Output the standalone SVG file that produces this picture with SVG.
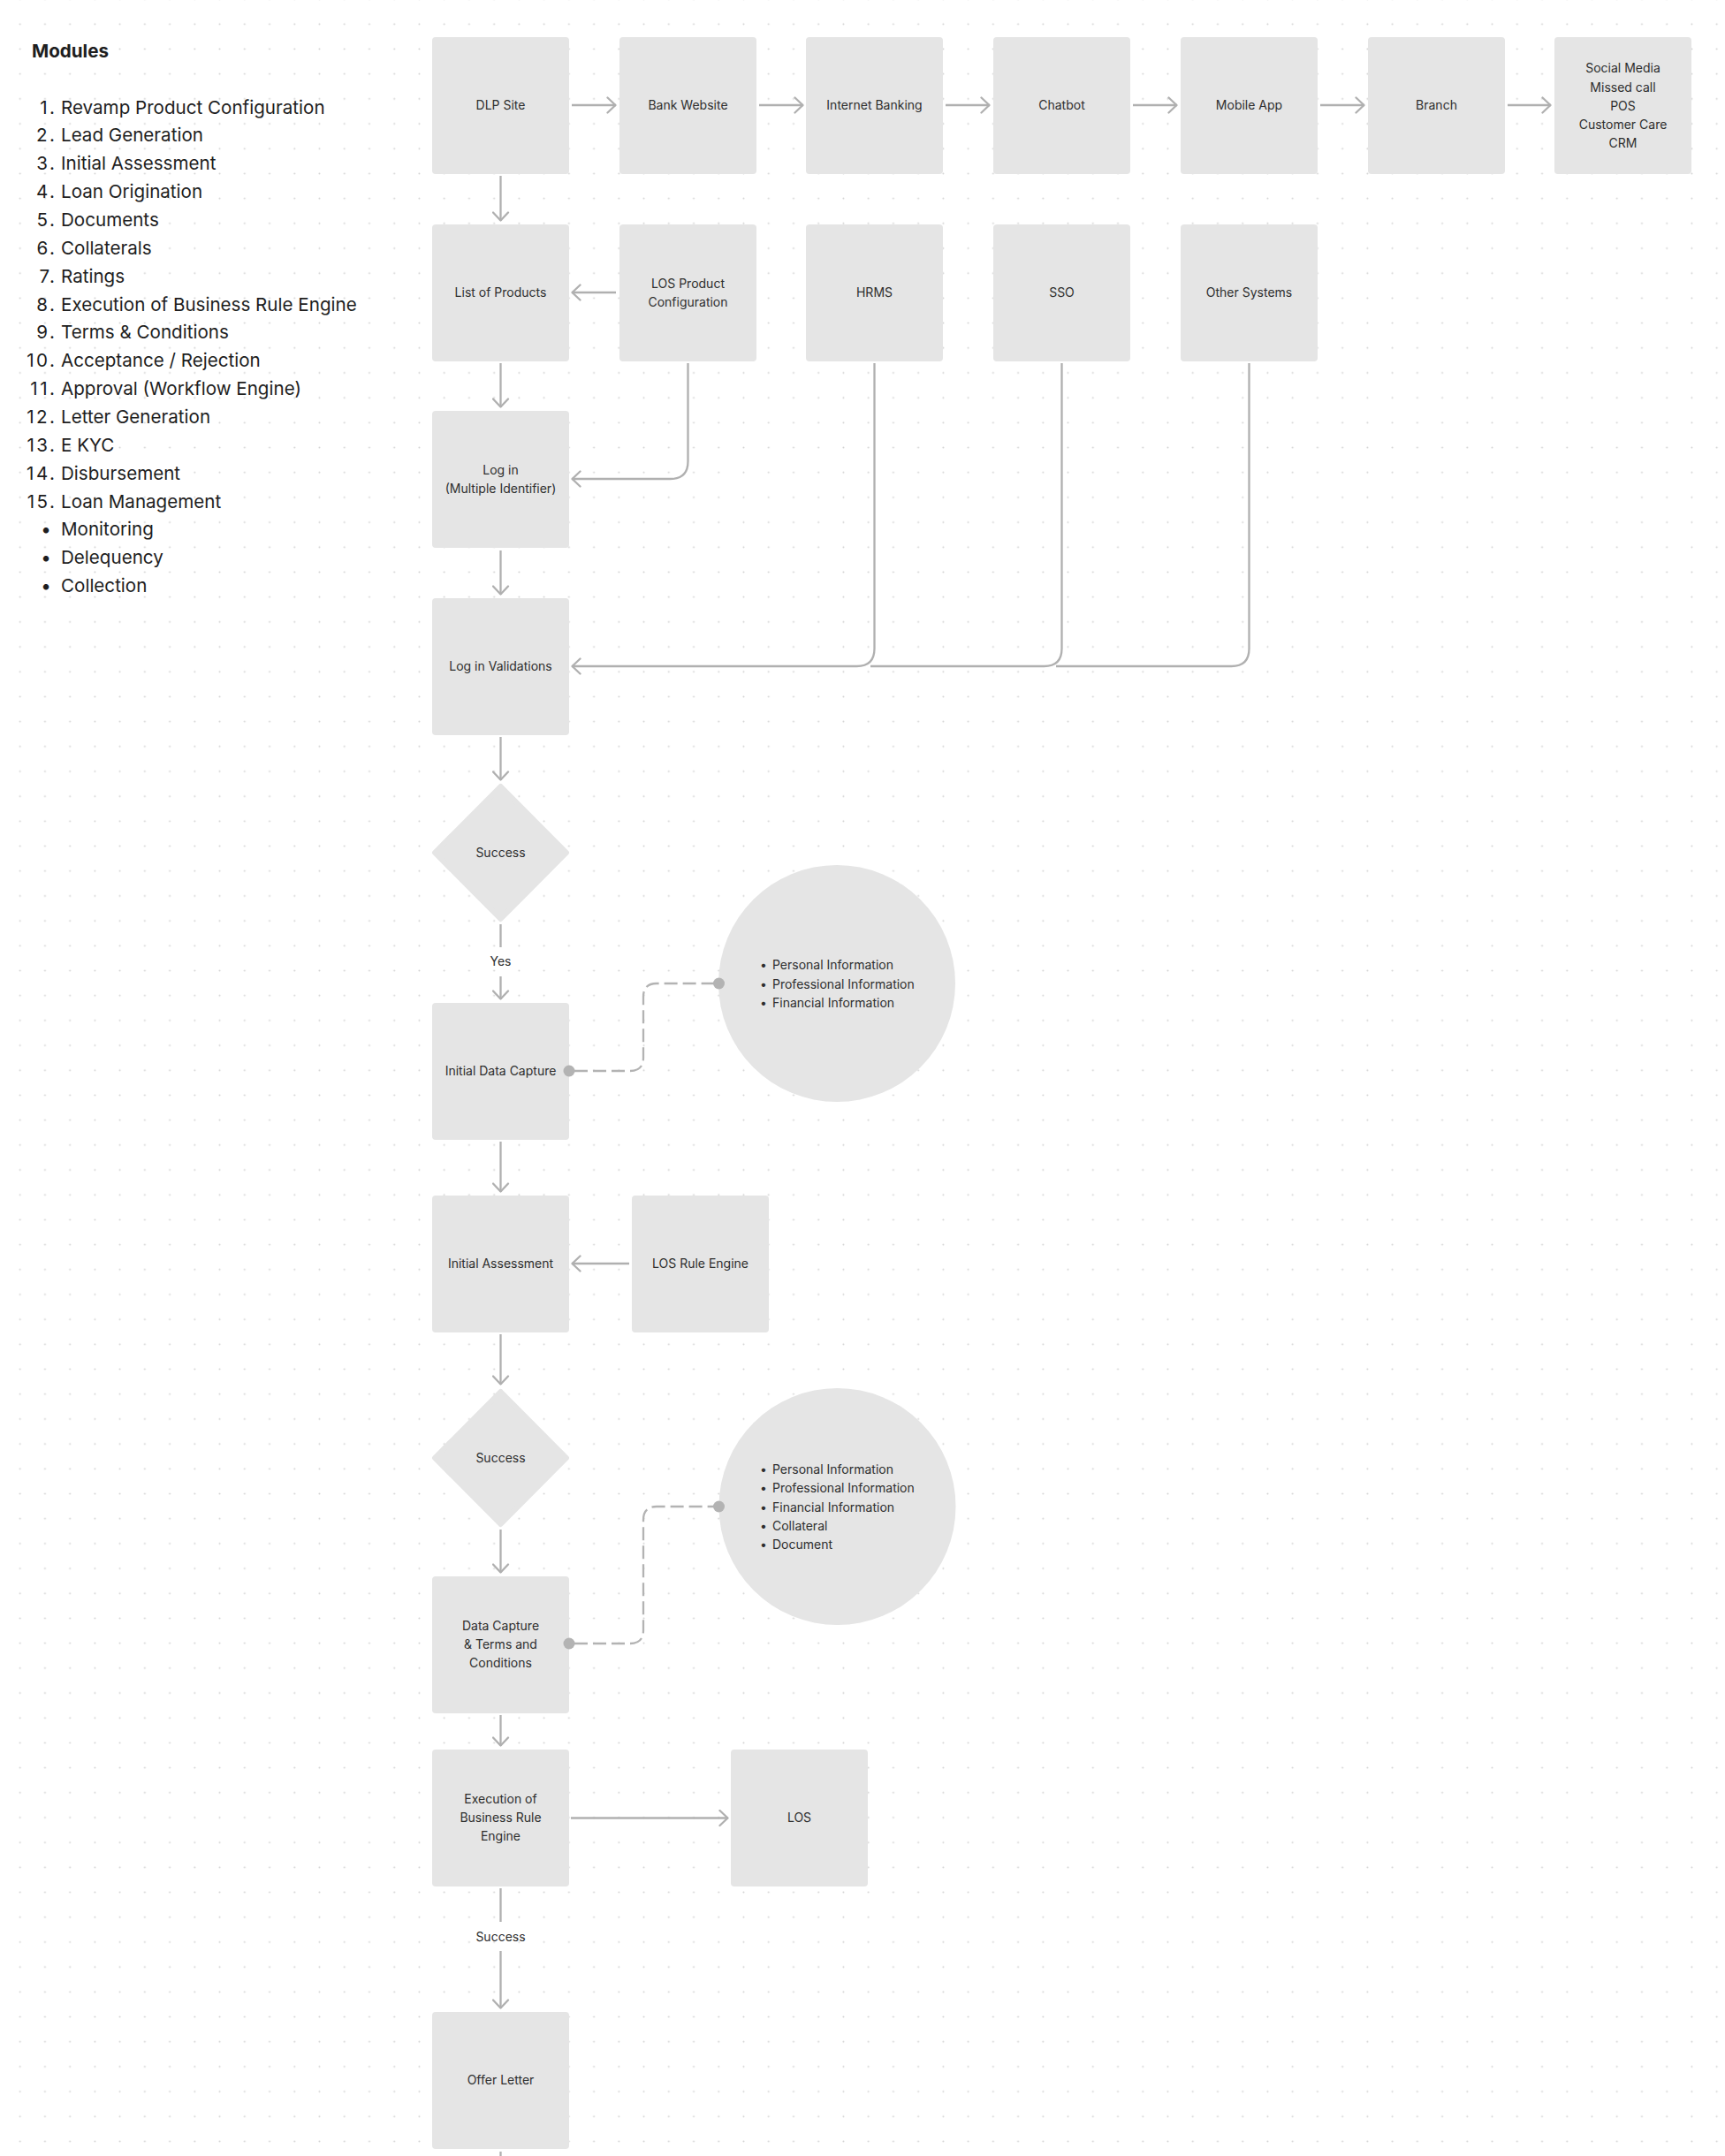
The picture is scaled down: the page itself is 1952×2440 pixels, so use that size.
<svg xmlns="http://www.w3.org/2000/svg" width="1952" height="2440" viewBox="0 0 1952 2440">
<style>
.n{fill:#e5e5e5}
.t{font-family:Inter,"Liberation Sans",sans-serif;font-size:14px;fill:#2e2e2e;text-anchor:middle}
.tl{font-family:Inter,"Liberation Sans",sans-serif;font-size:14px;fill:#2e2e2e}
.m{font-family:Inter,"Liberation Sans",sans-serif;font-size:20.6px;fill:#1e1e1e}
.mn{font-family:Inter,"Liberation Sans",sans-serif;font-size:20.6px;fill:#1e1e1e;text-anchor:end;letter-spacing:2.5px}
.c{fill:none;stroke:#b0b0b0;stroke-width:2.3}
.a{marker-end:url(#ah)}
.d{fill:none;stroke:#b3b3b3;stroke-width:2.3;stroke-dasharray:15 6}
.dot{fill:#b3b3b3}
</style>
<defs>
<pattern id="grid" patternUnits="userSpaceOnUse" x="8.6" y="13.2" width="28.235" height="28.19">
<circle cx="14.1" cy="14.1" r="1" fill="#d2d2d2"/>
</pattern>
<marker id="ah" viewBox="0 0 12 20" refX="11" refY="10" markerWidth="12" markerHeight="20" markerUnits="userSpaceOnUse" orient="auto">
<path d="M1.5,1.5 L10.5,10 L1.5,18.5" fill="none" stroke="#b0b0b0" stroke-width="2.3" stroke-linecap="round" stroke-linejoin="round"/>
</marker>
</defs>
<rect width="1952" height="2440" fill="#ffffff"/>
<rect width="1952" height="2440" fill="url(#grid)"/>

<g id="modules">
<text x="36" y="65" class="m" font-weight="700">Modules</text>
<text x="64.5" y="128.6" class="mn">1.</text><text x="69" y="128.6" class="m">Revamp Product Configuration</text>
<text x="64.5" y="160.4" class="mn">2.</text><text x="69" y="160.4" class="m">Lead Generation</text>
<text x="64.5" y="192.3" class="mn">3.</text><text x="69" y="192.3" class="m">Initial Assessment</text>
<text x="64.5" y="224.1" class="mn">4.</text><text x="69" y="224.1" class="m">Loan Origination</text>
<text x="64.5" y="256" class="mn">5.</text><text x="69" y="256" class="m">Documents</text>
<text x="64.5" y="287.8" class="mn">6.</text><text x="69" y="287.8" class="m">Collaterals</text>
<text x="64.5" y="319.7" class="mn">7.</text><text x="69" y="319.7" class="m">Ratings</text>
<text x="64.5" y="351.5" class="mn">8.</text><text x="69" y="351.5" class="m">Execution of Business Rule Engine</text>
<text x="64.5" y="383.4" class="mn">9.</text><text x="69" y="383.4" class="m">Terms &amp; Conditions</text>
<text x="64.5" y="415.2" class="mn">10.</text><text x="69" y="415.2" class="m">Acceptance / Rejection</text>
<text x="64.5" y="447.1" class="mn">11.</text><text x="69" y="447.1" class="m">Approval (Workflow Engine)</text>
<text x="64.5" y="478.9" class="mn">12.</text><text x="69" y="478.9" class="m">Letter Generation</text>
<text x="64.5" y="510.8" class="mn">13.</text><text x="69" y="510.8" class="m">E KYC</text>
<text x="64.5" y="542.6" class="mn">14.</text><text x="69" y="542.6" class="m">Disbursement</text>
<text x="64.5" y="574.5" class="mn">15.</text><text x="69" y="574.5" class="m">Loan Management</text>
<text x="52" y="606.3" class="m" text-anchor="middle">•</text><text x="69" y="606.3" class="m">Monitoring</text>
<text x="52" y="638.2" class="m" text-anchor="middle">•</text><text x="69" y="638.2" class="m">Delequency</text>
<text x="52" y="670" class="m" text-anchor="middle">•</text><text x="69" y="670" class="m">Collection</text>
</g>

<g id="dlp"><rect class="n" x="489" y="42" width="155" height="155" rx="4"/><text class="t" x="566.5" y="124">DLP Site</text></g>
<g id="bank"><rect class="n" x="701" y="42" width="155" height="155" rx="4"/><text class="t" x="778.5" y="124">Bank Website</text></g>
<g id="internet-banking"><rect class="n" x="912" y="42" width="155" height="155" rx="4"/><text class="t" x="989.5" y="124">Internet Banking</text></g>
<g id="chatbot"><rect class="n" x="1124" y="42" width="155" height="155" rx="4"/><text class="t" x="1201.5" y="124">Chatbot</text></g>
<g id="mobile-app"><rect class="n" x="1336" y="42" width="155" height="155" rx="4"/><text class="t" x="1413.5" y="124">Mobile App</text></g>
<g id="branch"><rect class="n" x="1548" y="42" width="155" height="155" rx="4"/><text class="t" x="1625.5" y="124">Branch</text></g>
<g id="social"><rect class="n" x="1759" y="42" width="155" height="155" rx="4"/>
<text class="t" x="1836.5" y="82.3">Social Media</text>
<text class="t" x="1836.5" y="103.6">Missed call</text>
<text class="t" x="1836.5" y="124.7">POS</text>
<text class="t" x="1836.5" y="145.7">Customer Care</text>
<text class="t" x="1836.5" y="166.7">CRM</text></g>

<g id="list-products"><rect class="n" x="489" y="254" width="155" height="155" rx="4"/><text class="t" x="566.5" y="336">List of Products</text></g>
<g id="los-product"><rect class="n" x="701" y="254" width="155" height="155" rx="4"/><text class="t" x="778.5" y="325.5">LOS Product</text><text class="t" x="778.5" y="346.5">Configuration</text></g>
<g id="hrms"><rect class="n" x="912" y="254" width="155" height="155" rx="4"/><text class="t" x="989.5" y="336">HRMS</text></g>
<g id="sso"><rect class="n" x="1124" y="254" width="155" height="155" rx="4"/><text class="t" x="1201.5" y="336">SSO</text></g>
<g id="other-systems"><rect class="n" x="1336" y="254" width="155" height="155" rx="4"/><text class="t" x="1413.5" y="336">Other Systems</text></g>

<g id="login"><rect class="n" x="489" y="465" width="155" height="155" rx="4"/><text class="t" x="566.5" y="537">Log in</text><text class="t" x="566.5" y="558">(Multiple Identifier)</text></g>
<g id="login-validations"><rect class="n" x="489" y="677" width="155" height="155" rx="4"/><text class="t" x="566.5" y="759">Log in Validations</text></g>

<g id="success-1"><polygon class="n" points="566.5,890 641,965 566.5,1040 492,965" stroke="#e5e5e5" stroke-width="6" stroke-linejoin="round"/><text class="t" x="566.5" y="970">Success</text></g>

<g id="initial-data-capture"><rect class="n" x="489" y="1135" width="155" height="155" rx="4"/><text class="t" x="566.5" y="1217">Initial Data Capture</text></g>
<g id="info-1"><circle class="n" cx="947" cy="1113" r="134"/>
<text class="tl" x="860" y="1097">•</text><text class="tl" x="874" y="1097">Personal Information</text>
<text class="tl" x="860" y="1118.5">•</text><text class="tl" x="874" y="1118.5">Professional Information</text>
<text class="tl" x="860" y="1139.5">•</text><text class="tl" x="874" y="1139.5">Financial Information</text></g>

<g id="initial-assessment"><rect class="n" x="489" y="1353" width="155" height="155" rx="4"/><text class="t" x="566.5" y="1435">Initial Assessment</text></g>
<g id="los-rule-engine"><rect class="n" x="715" y="1353" width="155" height="155" rx="4"/><text class="t" x="792.5" y="1435">LOS Rule Engine</text></g>

<g id="success-2"><polygon class="n" points="566.5,1575 641,1650 566.5,1725 492,1650" stroke="#e5e5e5" stroke-width="6" stroke-linejoin="round"/><text class="t" x="566.5" y="1655">Success</text></g>

<g id="data-capture"><rect class="n" x="489" y="1784" width="155" height="155" rx="4"/><text class="t" x="566.5" y="1845">Data Capture</text><text class="t" x="566.5" y="1866">&amp; Terms and</text><text class="t" x="566.5" y="1887">Conditions</text></g>
<g id="info-2"><circle class="n" cx="947.5" cy="1705" r="134"/>
<text class="tl" x="860" y="1668.3">•</text><text class="tl" x="874" y="1668.3">Personal Information</text>
<text class="tl" x="860" y="1689.3">•</text><text class="tl" x="874" y="1689.3">Professional Information</text>
<text class="tl" x="860" y="1710.7">•</text><text class="tl" x="874" y="1710.7">Financial Information</text>
<text class="tl" x="860" y="1731.7">•</text><text class="tl" x="874" y="1731.7">Collateral</text>
<text class="tl" x="860" y="1752.7">•</text><text class="tl" x="874" y="1752.7">Document</text></g>

<g id="execution-bre"><rect class="n" x="489" y="1980" width="155" height="155" rx="4"/><text class="t" x="566.5" y="2041">Execution of</text><text class="t" x="566.5" y="2062">Business Rule</text><text class="t" x="566.5" y="2083">Engine</text></g>
<g id="los"><rect class="n" x="827" y="1980" width="155" height="155" rx="4"/><text class="t" x="904.5" y="2062">LOS</text></g>
<g id="offer-letter"><rect class="n" x="489" y="2277" width="155" height="155" rx="4"/><text class="t" x="566.5" y="2359">Offer Letter</text></g>

<g id="connectors">
<line class="c a" x1="647" y1="119" x2="697" y2="119"/>
<line class="c a" x1="859" y1="119" x2="909" y2="119"/>
<line class="c a" x1="1070" y1="119" x2="1120" y2="119"/>
<line class="c a" x1="1282" y1="119" x2="1332" y2="119"/>
<line class="c a" x1="1494" y1="119" x2="1544" y2="119"/>
<line class="c a" x1="1706" y1="119" x2="1755" y2="119"/>
<line class="c a" x1="566.5" y1="199" x2="566.5" y2="250"/>
<line class="c a" x1="697" y1="331" x2="647" y2="331"/>
<line class="c a" x1="566.5" y1="411" x2="566.5" y2="461"/>
<path class="c a" d="M778.5,411 V522 Q778.5,542 758.5,542 H647"/>
<line class="c a" x1="566.5" y1="623" x2="566.5" y2="673"/>
<path class="c" d="M1201.5,411 V734 Q1201.5,754 1181.5,754 H985"/>
<path class="c" d="M1413.5,411 V734 Q1413.5,754 1393.5,754 H1195"/>
<path class="c a" d="M989.5,411 V734 Q989.5,754 969.5,754 H647"/>
<line class="c a" x1="566.5" y1="834" x2="566.5" y2="883"/>
<path class="c a" d="M566.5,1046 V1072 M566.5,1105 V1131"/>
<line class="c a" x1="566.5" y1="1292" x2="566.5" y2="1349"/>
<line class="c a" x1="712" y1="1430" x2="647" y2="1430"/>
<line class="c a" x1="566.5" y1="1510" x2="566.5" y2="1567"/>
<line class="c a" x1="566.5" y1="1731" x2="566.5" y2="1780"/>
<line class="c a" x1="566.5" y1="1941" x2="566.5" y2="1976"/>
<line class="c a" x1="646" y1="2057.5" x2="824" y2="2057.5"/>
<path class="c a" d="M566.5,2137 V2175 M566.5,2208 V2273"/>
<line class="c" x1="566.5" y1="2435" x2="566.5" y2="2440"/>
<path class="d" d="M650,1212 H713 Q728,1212 728,1197 V1128 Q728,1113 743,1113 H808"/>
<path class="d" d="M650,1860 H713 Q728,1860 728,1845 V1720 Q728,1705 743,1705 H808"/>
<circle class="dot" cx="644" cy="1212" r="6.5"/>
<circle class="dot" cx="813.5" cy="1113" r="6.5"/>
<circle class="dot" cx="644" cy="1860" r="6.5"/>
<circle class="dot" cx="813.5" cy="1705" r="6.5"/>
<text x="566.5" y="1093" class="t">Yes</text>
<text x="566.5" y="2197" class="t">Success</text>
</g>
</svg>
